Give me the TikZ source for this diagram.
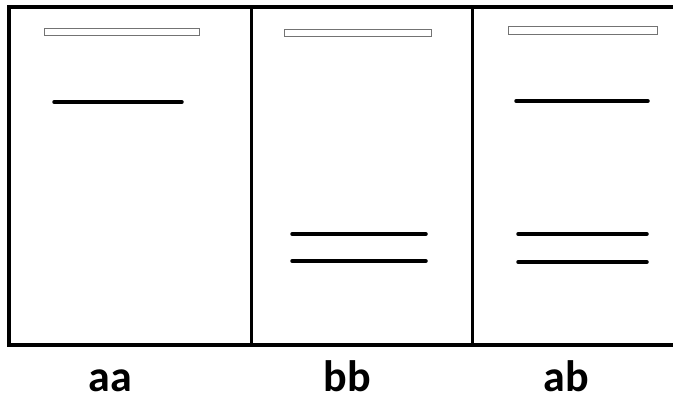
\documentclass[tikz,border=0pt]{standalone}
\usepackage{fontspec}
\setmainfont{Carlito}
\begin{document}
\begin{tikzpicture}[x=1pt,y=-1pt,
  frame/.style={line width=3.5pt,black},
  slot/.style={draw=black!55,line width=1pt,fill=white},
  band/.style={line width=3.5pt,line cap=round,black},
  lab/.style={font=\fontsize{44}{44}\selectfont\bfseries,anchor=base,inner sep=0pt}]
\useasboundingbox (0,0) rectangle (673,403);
% frame
\draw[frame] (673,7) -- (9,7) -- (9,345) -- (673,345);
\draw[frame,line width=3pt] (251,7) -- (251,345);
\draw[frame,line width=3pt] (472,7) -- (472,345);
% slots
\draw[slot] (44,29) rectangle (199,36);
\draw[slot] (284,30) rectangle (431,37);
\draw[slot] (508,27) rectangle (657,35);
% bands
\draw[band] (54,102) -- (182,102);
\draw[band] (292,234) -- (426,234);
\draw[band] (292,261) -- (426,261);
\draw[band] (516,101) -- (648,101);
\draw[band] (518,234) -- (647,234);
\draw[band] (518,262) -- (647,262);
% labels
\node[lab] (laa) at (110.5,392) {aa};
\node[lab] (lbb) at (347.5,392) {bb};
\node[lab] (lab) at (566.5,392) {ab};
\end{tikzpicture}
\end{document}
